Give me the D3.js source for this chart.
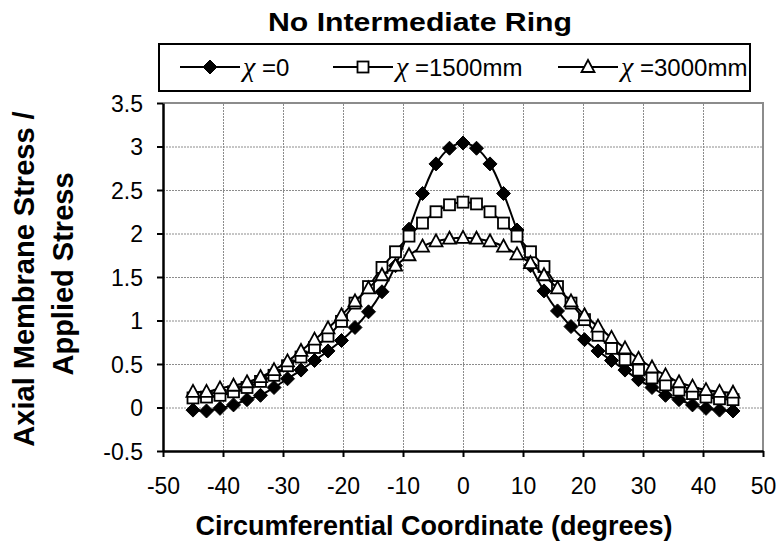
<!DOCTYPE html>
<html>
<head>
<meta charset="utf-8">
<script src="https://cdn.jsdelivr.net/npm/d3@7"></script>
<style>
  body { margin: 0; background: #fff; }
  text { font-family: Arial, "Liberation Sans", sans-serif; }
  .grid line { stroke: #8c8c8c; stroke-dasharray: 2,1; }
</style>
</head>
<body>
<svg id="chart" width="780" height="552"></svg>
<script>
// angle positions (degrees), -45 .. 45 every 2.25
var angles = [-45, -42.75, -40.5, -38.25, -36, -33.75, -31.5, -29.25, -27, -24.75,
  -22.5, -20.25, -18, -15.75, -13.5, -11.25, -9, -6.75, -4.5, -2.25, 0,
  2.25, 4.5, 6.75, 9, 11.25, 13.5, 15.75, 18, 20.25, 22.5, 24.75, 27, 29.25,
  31.5, 33.75, 36, 38.25, 40.5, 42.75, 45];

// x = 0
var stressX0 = [-0.03, -0.04, -0.01, 0.03, 0.09, 0.14, 0.23, 0.33, 0.43, 0.54,
  0.65, 0.77, 0.92, 1.10, 1.33, 1.63, 2.05, 2.46, 2.80, 2.98, 3.04,
  2.98, 2.80, 2.46, 2.04, 1.63, 1.34, 1.11, 0.93, 0.78, 0.65, 0.54, 0.43,
  0.32, 0.23, 0.14, 0.09, 0.03, -0.01, -0.03, -0.04];

// x = 1500mm
var stressX1500 = [0.11, 0.12, 0.14, 0.18, 0.23, 0.30, 0.37, 0.48, 0.58, 0.69,
  0.82, 0.99, 1.20, 1.39, 1.61, 1.79, 1.97, 2.12, 2.25, 2.33, 2.36,
  2.34, 2.25, 2.12, 1.97, 1.79, 1.62, 1.39, 1.20, 1.01, 0.83, 0.68, 0.55,
  0.43, 0.34, 0.26, 0.20, 0.16, 0.12, 0.10, 0.09];

// x = 3000mm
var stressX3000 = [0.18, 0.18, 0.22, 0.25, 0.29, 0.35, 0.43, 0.53, 0.65, 0.78,
  0.91, 1.06, 1.22, 1.37, 1.52, 1.63, 1.75, 1.85, 1.91, 1.94, 1.95,
  1.94, 1.91, 1.85, 1.76, 1.66, 1.52, 1.37, 1.22, 1.06, 0.93, 0.80, 0.68,
  0.56, 0.46, 0.37, 0.29, 0.24, 0.20, 0.18, 0.17];

var seriesNames = ["=0", "=1500mm", "=3000mm"];
var markerTypes = ["diamond", "square", "triangle"];
var xTicks = [-50, -40, -30, -20, -10, 0, 10, 20, 30, 40, 50];
var yTicks = [-0.5, 0, 0.5, 1, 1.5, 2, 2.5, 3, 3.5];

var svg = d3.select("#chart");

var x = d3.scaleLinear().domain([-50, 50]).range([163, 763]);
var y = d3.scaleLinear().domain([-0.5, 3.5]).range([451, 103]);

// grid lines
svg.append("g")
    .attr("class", "grid")
    .attr("transform", "translate(0,451)")
    .call(d3.axisBottom(x).tickValues(xTicks).tickSize(-348).tickFormat(""))
    .call(function(g) { g.select(".domain").remove(); });

svg.append("g")
    .attr("class", "grid")
    .attr("transform", "translate(163,0)")
    .call(d3.axisLeft(y).tickValues(yTicks).tickSize(-600).tickFormat(""))
    .call(function(g) { g.select(".domain").remove(); });

// gray frame on top and right
svg.append("path")
    .attr("d", "M" + x(-50) + "," + y(3.5) + "H" + x(50) + "V" + y(-0.5))
    .attr("fill", "none")
    .attr("stroke", "#8c8c8c")
    .attr("stroke-width", 2);

// axes (plain hyphen for negatives, like the original)
var xAxis = svg.append("g")
    .attr("transform", "translate(0,451)")
    .call(d3.axisBottom(x).tickValues(xTicks).tickSize(6).tickSizeOuter(0)
      .tickFormat(function(d) { return String(d); }));
var yAxis = svg.append("g")
    .attr("transform", "translate(163,0)")
    .call(d3.axisLeft(y).tickValues(yTicks).tickSize(6).tickSizeOuter(0).tickPadding(14)
      .tickFormat(function(d) { return String(d); }));

[xAxis, yAxis].forEach(function(a) {
  a.select(".domain").attr("stroke", "#000").attr("stroke-width", 2.5);
  a.selectAll(".tick line").attr("stroke", "#000").attr("stroke-width", 2);
  a.selectAll(".tick text").attr("fill", "#000").style("font-size", "23px")
    .style("font-family", "Arial, 'Liberation Sans', sans-serif");
});
xAxis.selectAll(".tick text").attr("dy", "0.71em").attr("y", 27);
yAxis.selectAll(".tick text").attr("dy", "0.36em");

// series
var allSeries = [stressX0, stressX1500, stressX3000];

var line = d3.line()
    .curve(d3.curveCatmullRom.alpha(0.5))
    .x(function(d, i) { return x(angles[i]); })
    .y(function(d) { return y(d); });

function drawMarker(g, type, cx, cy) {
  if (type === "diamond") {
    g.append("path")
      .attr("d", "M" + cx + "," + (cy - 7) + "L" + (cx + 7) + "," + cy + "L" + cx + "," + (cy + 7) + "L" + (cx - 7) + "," + cy + "Z")
      .attr("fill", "#000").attr("stroke", "#000").attr("stroke-width", 1);
  } else if (type === "square") {
    g.append("rect")
      .attr("x", cx - 5.5).attr("y", cy - 5.5).attr("width", 11).attr("height", 11)
      .attr("fill", "#fff").attr("stroke", "#000").attr("stroke-width", 1.8);
  } else {
    g.append("path")
      .attr("d", "M" + cx + "," + (cy - 7) + "L" + (cx + 6.5) + "," + (cy + 5) + "L" + (cx - 6.5) + "," + (cy + 5) + "Z")
      .attr("fill", "#fff").attr("stroke", "#000").attr("stroke-width", 1.8);
  }
}

allSeries.forEach(function(vals, s) {
  var g = svg.append("g");
  g.append("path")
    .datum(vals)
    .attr("d", line)
    .attr("fill", "none")
    .attr("stroke", "#000")
    .attr("stroke-width", 2);
  vals.forEach(function(v, i) {
    drawMarker(g, markerTypes[s], x(angles[i]), y(v));
  });
});

// legend
svg.append("rect")
    .attr("x", 159).attr("y", 44).attr("width", 591).attr("height", 47)
    .attr("fill", "#fff").attr("stroke", "#000").attr("stroke-width", 2);

var legendX = [180, 333, 558];
seriesNames.forEach(function(name, s) {
  var lg = svg.append("g");
  var lx = legendX[s], ly = 67;
  lg.append("line")
    .attr("x1", lx).attr("x2", lx + 60).attr("y1", ly).attr("y2", ly)
    .attr("stroke", "#000").attr("stroke-width", 2);
  drawMarker(lg, markerTypes[s], lx + 30, ly);
  var t = lg.append("text")
    .attr("x", lx + 63).attr("y", ly + 9)
    .style("font-size", "24px");
  t.append("tspan")
    .style("font-family", "'Liberation Serif', 'Times New Roman', serif")
    .style("font-style", "italic")
    .style("font-size", "28px")
    .text("\u03C7");
  t.append("tspan").text(" " + name);
});

// title
svg.append("text")
    .attr("x", 420).attr("y", 31)
    .attr("text-anchor", "middle")
    .attr("textLength", 304)
    .attr("lengthAdjust", "spacingAndGlyphs")
    .style("font-size", "25px").style("font-weight", "bold")
    .text("No Intermediate Ring");

// x axis title
svg.append("text")
    .attr("x", 434).attr("y", 535)
    .attr("text-anchor", "middle")
    .style("font-size", "27px").style("font-weight", "bold")
    .text("Circumferential Coordinate (degrees)");

// y axis title
svg.append("text")
    .attr("transform", "translate(34,279) rotate(-90)")
    .attr("text-anchor", "middle")
    .style("font-size", "29px").style("font-weight", "bold")
    .text("Axial Membrane Stress /");
svg.append("text")
    .attr("transform", "translate(73,274) rotate(-90)")
    .attr("text-anchor", "middle")
    .style("font-size", "29px").style("font-weight", "bold")
    .text("Applied Stress");
</script>
</body>
</html>
